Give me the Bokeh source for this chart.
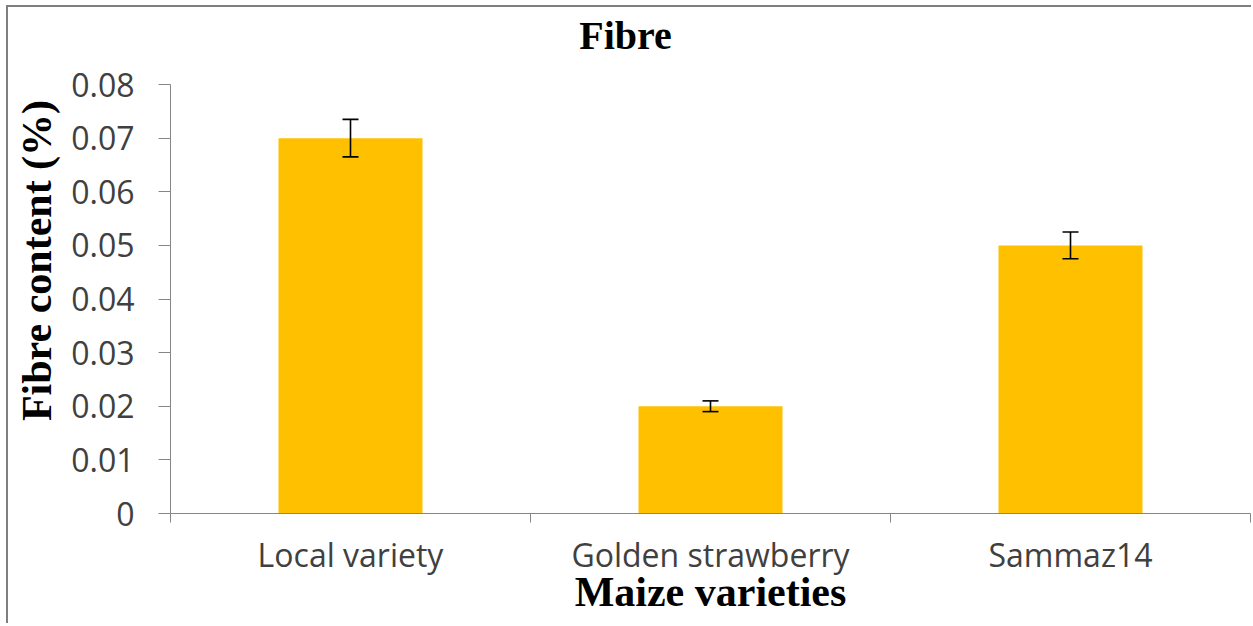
from bokeh.plotting import figure
from bokeh.models import (ColumnDataSource, Whisker, TeeHead, LinearAxis, Range1d,
                          FixedTicker, CustomJSTickFormatter, Label)
from bokeh.embed import file_html
from bokeh.resources import INLINE

categories = ["Local variety", "Golden strawberry", "Sammaz14"]
fibre = [0.070, 0.020, 0.050]
error = [0.0035, 0.0010, 0.0025]
y_ticks = [0, 0.01, 0.02, 0.03, 0.04, 0.05, 0.06, 0.07, 0.08]
y_tick_labels = ["0", "0.01", "0.02", "0.03", "0.04", "0.05", "0.06", "0.07", "0.08"]
title_text = "Fibre"
x_title = "Maize varieties"
y_title = "Fibre content (%)"

n = len(categories)
centers = [i + 0.5 for i in range(n)]          # category slot centres
bounds = [float(i) for i in range(n + 1)]       # category slot boundaries
y_axis_max = y_ticks[-1]

src = ColumnDataSource(dict(
    x=centers,
    val=fibre,
    upper=[v + e for v, e in zip(fibre, error)],
    lower=[v - e for v, e in zip(fibre, error)],
))

AXIS_GRAY = "#868686"
LABEL_GRAY = "#404040"
SERIF = "Liberation Serif"
SANS = "Open Sans"

# frame spans from the top of the canvas so the title can sit inside it;
# the value axis itself only runs from 0 to 0.08
FRAME_TOP_EXTRA = (513 - 7) / 429.0
p = figure(x_range=Range1d(0, n), y_range=Range1d(0, y_axis_max * FRAME_TOP_EXTRA),
           width=1245, height=618, output_backend="svg", toolbar_location=None,
           x_axis_location=None, y_axis_location=None,
           min_border_left=162, min_border_right=3, min_border_top=0, min_border_bottom=112)
p.styles = {"margin-left": "6px", "margin-top": "5px",
            "border-top": "2px solid #7f7f7f", "border-left": "2px solid #7f7f7f"}

p.vbar(x="x", top="val", width=0.4, source=src, fill_color="#FFC000", line_color=None)

wh = Whisker(base="x", upper="upper", lower="lower", source=src, dimension="height",
             line_color="black", line_width=1.6, level="overlay",
             upper_head=TeeHead(size=16, line_color="black", line_width=1.6),
             lower_head=TeeHead(size=16, line_color="black", line_width=1.6))
p.add_layout(wh)

p.xgrid.visible = False
p.ygrid.visible = False
p.outline_line_color = None

# y axis
yax = LinearAxis(ticker=FixedTicker(ticks=y_ticks), bounds=(0, y_axis_max))
yax.major_label_overrides = {t: l for t, l in zip(y_ticks, y_tick_labels)}
yax.axis_line_color = AXIS_GRAY
yax.major_tick_line_color = AXIS_GRAY
yax.major_tick_out = 12
yax.major_tick_in = 0
yax.minor_tick_line_color = None
yax.major_label_text_font = SANS
yax.major_label_text_font_size = "32px"
yax.major_label_text_color = LABEL_GRAY
yax.major_label_standoff = 24
yax.axis_label = y_title
yax.axis_label_text_font = SERIF
yax.axis_label_text_font_style = "bold"
yax.axis_label_text_font_size = "42px"
yax.axis_label_text_color = "black"
yax.axis_label_standoff = 8
p.add_layout(yax, "left")

# x axis line with boundary ticks
bax = LinearAxis(ticker=FixedTicker(ticks=bounds))
bax.formatter = CustomJSTickFormatter(code="return ''")
bax.axis_line_color = AXIS_GRAY
bax.major_tick_line_color = AXIS_GRAY
bax.major_tick_out = 9
bax.major_tick_in = 0
bax.minor_tick_line_color = None
bax.major_label_text_font_size = "1px"
bax.major_label_standoff = 0
p.add_layout(bax, "below")

# category labels
cax = LinearAxis(ticker=FixedTicker(ticks=centers))
cax.major_label_overrides = {c: name for c, name in zip(centers, categories)}
cax.axis_line_color = None
cax.major_tick_line_color = None
cax.minor_tick_line_color = None
cax.major_label_text_font = SANS
cax.major_label_text_font_size = "32px"
cax.major_label_text_color = LABEL_GRAY
cax.major_label_standoff = 4
cax.axis_label = x_title
cax.axis_label_text_font = SERIF
cax.axis_label_text_font_style = "bold"
cax.axis_label_text_font_size = "42px"
cax.axis_label_text_color = "black"
cax.axis_label_standoff = -10
p.add_layout(cax, "below")

# chart title, inside the extended frame above the value axis
p.add_layout(Label(x=1.264, y=y_axis_max * 478 / 429.0, text=title_text,
                   text_align="center", text_baseline="alphabetic", text_font=SERIF,
                   text_font_style="bold", text_font_size="40px", text_color="black"))

open("out.html", "w").write(file_html(p, INLINE))
